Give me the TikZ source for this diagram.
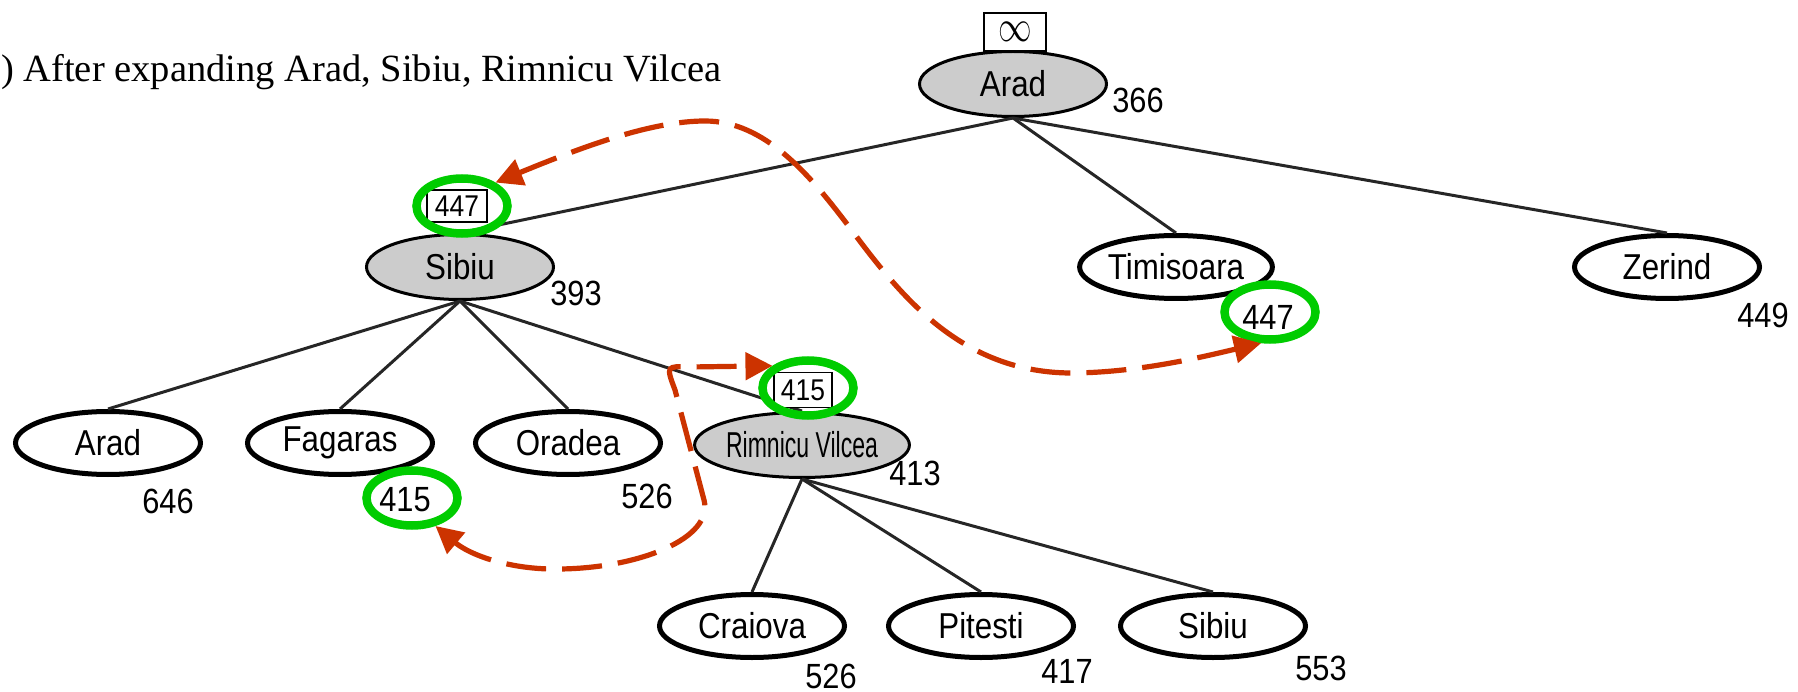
\documentclass[tikz,border=0pt]{standalone}
\usepackage{fontspec}
\usepackage{graphicx}
\setmainfont{Liberation Serif}
\setsansfont{Liberation Sans}
\usetikzlibrary{shapes.geometric,arrows.meta}
\definecolor{nodegray}{RGB}{204,204,204}
\definecolor{ringgreen}{RGB}{0,204,0}
\definecolor{arrowred}{RGB}{204,51,0}
\newcommand\sxx[2][0.87]{\scalebox{#1}[1]{#2}}
\begin{document}
\begin{tikzpicture}[x=1pt,y=-1pt,
 city/.style={ellipse,draw=black,inner sep=0pt,minimum width=185pt,minimum height=63pt,line width=5pt,fill=white,font=\sffamily\fontsize{36}{36}\selectfont},
 expanded/.style={city,line width=3pt,minimum width=187pt,minimum height=65pt,fill=nodegray},
 hval/.style={inner sep=0pt,font=\sffamily\fontsize{35}{35}\selectfont},
 fvalbox/.style={draw=black,line width=1.5pt,fill=white,inner sep=0pt,minimum width=60pt,minimum height=32pt,font=\sffamily\fontsize{30}{30}\selectfont},
 ring/.style={ellipse,draw=ringgreen,line width=8.5pt,minimum width=91pt,minimum height=55pt,inner sep=0pt},
 treeedge/.style={line width=3pt,draw=black!85},
 backarrow/.style={draw=arrowred,line width=5.2pt,dash pattern=on 40pt off 16pt,{Triangle[length=27pt,width=27pt]}-{Triangle[length=27pt,width=27pt]}}
]
\useasboundingbox (0,0) rectangle (1798,692);

\node[anchor=base west,inner sep=0pt,font=\rmfamily\fontsize{38.5}{38.5}\selectfont] (title) at (1,82) {) After expanding Arad, Sibiu, Rimnicu Vilcea};

% tree nodes
\node[expanded] (root) at (1013,84) {\sxx{Arad}};
\node[expanded] (sib) at (460,267) {\sxx{Sibiu}};
\node[city] (tim) at (1176,267) {\sxx{Timisoara}};
\node[city] (zer) at (1667,267) {\sxx{Zerind}};
\node[city] (ar2) at (108,443) {\sxx{Arad}};
\node[city] (fag) at (340,443) {\sxx{Fagaras}};
\node[city] (ora) at (568,443) {\sxx{Oradea}};
\node[expanded] (rv) at (802,445) {\sxx[0.64]{Rimnicu Vilcea}};
\node[city] (cra) at (752,626) {\sxx{Craiova}};
\node[city] (pit) at (981,626) {\sxx{Pitesti}};
\node[city] (sib2) at (1213,626) {\sxx{Sibiu}};

% heuristic values
\node[hval] (v366) at (1138,100) {\sxx[0.88]{366}};
\node[hval] (v393) at (576,293) {\sxx[0.88]{393}};
\node[hval] (v447t) at (1268,317) {\sxx[0.88]{447}};
\node[hval] (v449) at (1763,315) {\sxx[0.88]{449}};
\node[hval] (v646) at (168,501) {\sxx[0.88]{646}};
\node[hval] (v415f) at (405,500) {\sxx[0.88]{415}};
\node[hval] (v526o) at (647,496) {\sxx[0.88]{526}};
\node[hval] (v413) at (915,473) {\sxx[0.88]{413}};
\node[hval] (v526c) at (831,676) {\sxx[0.88]{526}};
\node[hval] (v417) at (1067,671) {\sxx[0.88]{417}};
\node[hval] (v553) at (1321,668) {\sxx[0.88]{553}};

% tree edges
\draw[treeedge] (root.south) -- (sib.north);
\draw[treeedge] (root.south) -- (tim.north);
\draw[treeedge] (root.south) -- (zer.north);
\draw[treeedge] (sib.south) -- (ar2.north);
\draw[treeedge] (sib.south) -- (fag.north);
\draw[treeedge] (sib.south) -- (ora.north);
\draw[treeedge] (sib.south) -- (rv.north);
\draw[treeedge] (rv.south) -- (cra.north);
\draw[treeedge] (rv.south) -- (pit.north);
\draw[treeedge] (rv.south) -- (sib2.north);

% f-limit boxes
\node[fvalbox,minimum width=62pt,minimum height=38pt] (binf) at (1015,32) {\scalebox{1.35}[1.8]{$\infty$}};
\node[fvalbox] (b447) at (457,206) {\sxx[0.88]{447}};
\node[fvalbox,minimum width=58pt,minimum height=35pt] (b415) at (803,390) {\sxx[0.88]{415}};

% green rings
\node[ring] (r1) at (462,206) {};
\node[ring] (r2) at (1270,312) {};
\node[ring] (r3) at (808,388) {};
\node[ring] (r4) at (412,498) {};

% red dashed arrows
\draw[backarrow] (r1.35) .. controls (580,148) and (650,121) .. (705,121)
  .. controls (765,121) and (810,175) .. (850,228)
  .. controls (900,295) and (960,372) .. (1070,373)
  .. controls (1140,373) and (1210,355) .. (r2.254);
\draw[backarrow] (r4.310) .. controls (470,555) and (510,570) .. (560,569)
  .. controls (640,568) and (714,538) .. (704,500)
  -- (675,390) .. controls (666,366) .. (690,367) -- (r3.148);
\end{tikzpicture}
\end{document}
